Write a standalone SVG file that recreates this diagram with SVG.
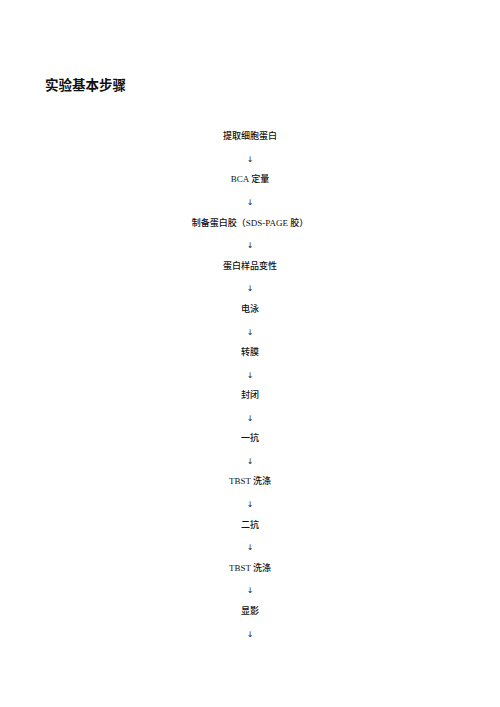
<svg xmlns="http://www.w3.org/2000/svg" width="500" height="707" viewBox="0 0 500 707">
<style>
.t{font-family:"Liberation Serif","Noto Sans CJK SC",serif;font-size:9px;fill:#111;text-anchor:middle}
.c{font-family:"Noto Sans CJK SC","Liberation Sans",sans-serif;font-weight:500}
.a{font-family:"DejaVu Sans",sans-serif;font-size:8px;fill:#222;text-anchor:middle}
.h{font-family:"Noto Sans CJK SC",sans-serif;font-size:13.5px;font-weight:bold;fill:#111}
</style>
<rect width="500" height="707" fill="#fff"/>
<text class="h" x="45" y="90">实验基本步骤</text>
<g id="n1"><text class="t c" x="250" y="139.2">提取细胞蛋白</text></g>
<g id="n2"><text class="t" x="250" y="182.4">BCA <tspan class="c">定量</tspan></text></g>
<g id="n3"><text class="t" x="250" y="225.5"><tspan class="c">制备蛋白胶（</tspan>SDS-PAGE <tspan class="c">胶）</tspan></text></g>
<g id="n4"><text class="t c" x="250" y="268.6">蛋白样品变性</text></g>
<g id="n5"><text class="t c" x="250" y="311.8">电泳</text></g>
<g id="n6"><text class="t c" x="250" y="354.9">转膜</text></g>
<g id="n7"><text class="t c" x="250" y="398">封闭</text></g>
<g id="n8"><text class="t c" x="250" y="441.2">一抗</text></g>
<g id="n9"><text class="t" x="250" y="484.3">TBST <tspan class="c">洗涤</tspan></text></g>
<g id="n10"><text class="t c" x="250" y="527.5">二抗</text></g>
<g id="n11"><text class="t" x="250" y="570.6">TBST <tspan class="c">洗涤</tspan></text></g>
<g id="n12"><text class="t c" x="250" y="613.8">显影</text></g>
<g id="connectors">
<text class="a" x="250" y="162">↓</text>
<text class="a" x="250" y="205.2">↓</text>
<text class="a" x="250" y="248.3">↓</text>
<text class="a" x="250" y="291.4">↓</text>
<text class="a" x="250" y="334.6">↓</text>
<text class="a" x="250" y="377.7">↓</text>
<text class="a" x="250" y="420.8">↓</text>
<text class="a" x="250" y="464">↓</text>
<text class="a" x="250" y="507.1">↓</text>
<text class="a" x="250" y="550.3">↓</text>
<text class="a" x="250" y="593.4">↓</text>
<text class="a" x="250" y="636.6">↓</text>
</g>
</svg>
